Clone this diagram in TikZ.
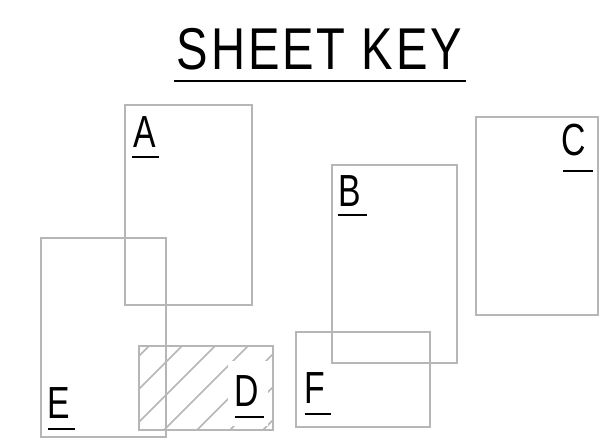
\documentclass[tikz,border=0pt]{standalone}
\usepackage{fontspec}
\newfontfamily\titlefont[FakeStretch=0.8,LetterSpace=5]{Liberation Sans}
\newfontfamily\keyfont[FakeStretch=0.75]{Liberation Sans}
\definecolor{sheetgray}{RGB}{182,182,182}
\begin{document}
\begin{tikzpicture}[x=1pt,y=-1pt,
  sheet/.style={draw=sheetgray,line width=2pt},
  hatchline/.style={draw=sheetgray,line width=1.6pt},
  keylabel/.style={font=\keyfont\fontsize{45}{45}\selectfont,inner sep=0pt,anchor=base west},
  keyrule/.style={line width=2pt}]
\useasboundingbox (0,0) rectangle (604,446);
% hatch in D
\begin{scope}
  \clip (139,346) rectangle (273,430);
  \foreach \c in {495,528,561,594,627,660,693}
    \draw[hatchline] (\c,0) -- ({\c-500},500);
  \fill[white] (228,361) rectangle (268,426);
\end{scope}
% sheets
\draw[sheet] (125,105) rectangle (252,305);
\draw[sheet] (332,165) rectangle (457,363);
\draw[sheet] (476,117) rectangle (598,315);
\draw[sheet] (139,346) rectangle (273,430);
\draw[sheet] (41,238) rectangle (166,437);
\draw[sheet] (296,332) rectangle (430,427);
% title
\node[font=\titlefont\fontsize{59}{59}\selectfont,inner sep=0pt,anchor=base] (title) at (319.5,70) {SHEET KEY};
\draw[keyrule] (174,81) -- (466,81);
% labels
\node[keylabel] (lA) at (133,148) {A};
\node[keylabel] (lB) at (338,207) {B};
\node[keylabel] (lC) at (561.5,156) {C};
\node[keylabel] (lD) at (234.5,406) {D};
\node[keylabel] (lE) at (47.5,418) {E};
\node[keylabel] (lF) at (304.5,403) {F};
\draw[keyrule] (lA.base west) ++(-1,9) -- ++(27,0);
\draw[keyrule] (lB.base west) ++(0,8) -- ++(29,0);
\draw[keyrule] (lC.base west) ++(1.5,15) -- ++(30,0);
\draw[keyrule] (lD.base west) ++(0.5,11) -- ++(29,0);
\draw[keyrule] (lE.base west) ++(0.5,11) -- ++(27,0);
\draw[keyrule] (lF.base west) ++(0,11) -- ++(26,0);
\end{tikzpicture}
\end{document}
